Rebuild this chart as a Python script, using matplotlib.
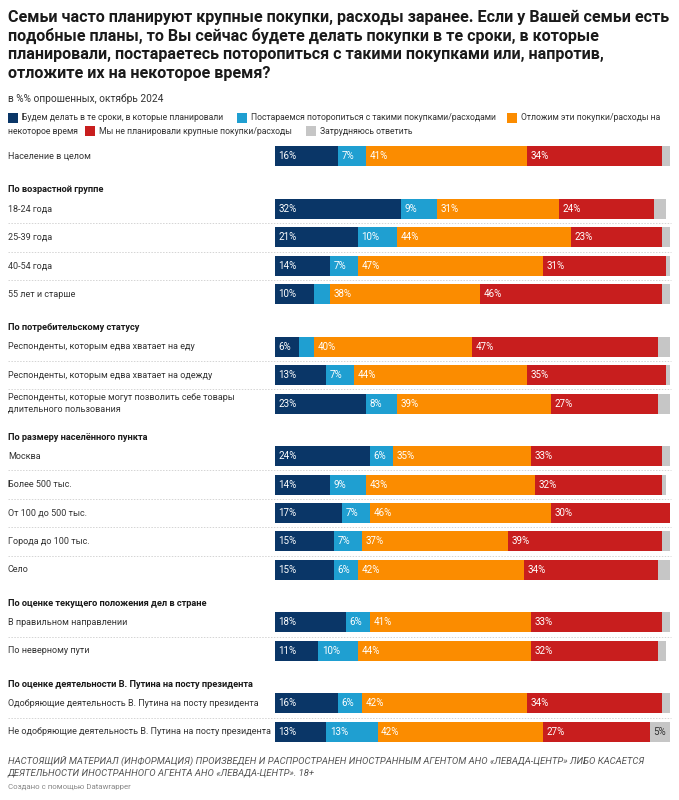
import matplotlib
matplotlib.use("Agg")
import matplotlib.pyplot as plt
import matplotlib.transforms as mtransforms
from matplotlib.patches import Rectangle

plt.rcParams['font.family'] = ['Roboto', 'DejaVu Sans']

# ---------------- data ----------------
series = ["Будем делать в те сроки, в которые планировали",
          "Постараемся поторопиться с такими покупками/расходами",
          "Отложим эти покупки/расходы на\nнекоторое время",
          "Мы не планировали крупные покупки/расходы",
          "Затрудняюсь ответить"]
colors = ["#0a3667", "#1f9fd1", "#fb8c00", "#c81e1e", "#c6c6c6"]

groups = [None,
          "По возрастной группе",
          "По потребительскому статусу",
          "По размеру населённого пункта",
          "По оценке текущего положения дел в стране",
          "По оценке деятельности В. Путина на посту президента"]

categories = [
    ["Население в целом"],
    ["18-24 года", "25-39 года", "40-54 года", "55 лет и старше"],
    ["Респонденты, которым едва хватает на еду",
     "Респонденты, которым едва хватает на одежду",
     "Респонденты, которые могут позволить себе товары\nдлительного пользования"],
    ["Москва", "Более 500 тыс.", "От 100 до 500 тыс.", "Города до 100 тыс.", "Село"],
    ["В правильном направлении", "По неверному пути"],
    ["Одобряющие деятельность В. Путина на посту президента",
     "Не одобряющие деятельность В. Путина на посту президента"],
]

on_time = [16, 32, 21, 14, 10, 6, 13, 23, 24, 14, 17, 15, 15, 18, 11, 16, 13]
hurry = [7, 9, 10, 7, 4, 4, 7, 8, 6, 9, 7, 7, 6, 6, 10, 6, 13]
postpone = [41, 31, 44, 47, 38, 40, 44, 39, 35, 43, 46, 37, 42, 41, 44, 42, 42]
no_plans = [34, 24, 23, 31, 46, 47, 35, 27, 33, 32, 30, 39, 34, 33, 32, 34, 27]
dont_know = [2, 3, 2, 2, 3, 3, 2, 3, 2, 1, 1, 3, 4, 2, 2, 2, 5]

values = [on_time, hurry, postpone, no_plans, dont_know]

title_lines = ["Семьи часто планируют крупные покупки, расходы заранее. Если у Вашей семьи есть",
               "подобные планы, то Вы сейчас будете делать покупки в те сроки, в которые",
               "планировали, постараетесь поторопиться с такими покупками или, напротив,",
               "отложите их на некоторое время?"]
subtitle = "в %% опрошенных, октябрь 2024"
footer_lines = ["НАСТОЯЩИЙ МАТЕРИАЛ (ИНФОРМАЦИЯ) ПРОИЗВЕДЕН И РАСПРОСТРАНЕН ИНОСТРАННЫМ АГЕНТОМ АНО «ЛЕВАДА-ЦЕНТР» ЛИБО КАСАЕТСЯ",
                "ДЕЯТЕЛЬНОСТИ ИНОСТРАННОГО АГЕНТА АНО «ЛЕВАДА-ЦЕНТР». 18+"]
credit = "Создано с помощью Datawrapper"

# ---------------- layout ----------------
W, H = 679, 800
fig = plt.figure(figsize=(W / 100, H / 100), dpi=100)
fig.patch.set_facecolor("white")

x0, x1 = 275, 669.5
ax = fig.add_axes([x0 / W, 0, (x1 - x0) / W, 1])
ax.set_xlim(0, 100)
ax.set_ylim(H, 0)
ax.axis("off")

trans = mtransforms.blended_transform_factory(fig.transFigure, ax.transData)
def fx(px):
    return px / W
def fy(py):
    return 1 - py / H

first_row = 156.3
spacing = 28.4
group_gap = 52.6
header_off = 19
bar_h = 20

row_y = []
header_y = []
y = first_row
for gi, cats in enumerate(categories):
    if gi > 0:
        y = row_y[-1] + group_gap
        header_y.append(y - header_off)
    for ci in range(len(cats)):
        row_y.append(y + ci * spacing)

# separators
idx = 0
for gi, cats in enumerate(categories):
    for ci in range(len(cats) - 1):
        ym = (row_y[idx + ci] + row_y[idx + ci + 1]) / 2
        ax.plot([fx(8), fx(671)], [ym, ym], transform=trans, color="#d4d4d4",
                lw=0.7, ls=(0, (1.5, 1.5)), clip_on=False)
    idx += len(cats)

# bars
for i, yc in enumerate(row_y):
    left = 0
    for s in range(5):
        v = values[s][i]
        ax.barh(yc, v, left=left, height=bar_h, color=colors[s], lw=0)
        if v >= 5:
            tc = "white" if s < 4 else "#333333"
            ax.text(left + 0.9, yc, f"{v}%", color=tc, fontsize=7,
                    va="center", ha="left")
        left += v

# row labels
flat = [c for cats in categories for c in cats]
for lab, yc in zip(flat, row_y):
    ax.text(fx(8), yc, lab, transform=trans, fontsize=6.45, color="#333333",
            va="center", ha="left", linespacing=1.35)
for g, yh in zip(groups[1:], header_y):
    ax.text(fx(8), yh, g, transform=trans, fontsize=6.65, color="#1a1a1a",
            va="center", ha="left", fontweight="bold")

# title
for line, ty in zip(title_lines, [17, 35.7, 54.4, 73.1]):
    fig.text(fx(8), fy(ty), line, fontsize=11.6, fontweight="bold",
             color="#1a1a1a", va="center", ha="left")
fig.text(fx(8), fy(98.5), subtitle, fontsize=7.3,
         color="#333333", va="center", ha="left")

# legend
leg_items = [(8, 118), (237, 118), (507, 118), (85, 131), (306, 131)]
for s, (lx, ly) in enumerate(leg_items):
    fig.patches.append(Rectangle((fx(lx), fy(ly + 5)), 10 / W, 10 / H,
                                 transform=fig.transFigure, color=colors[s], lw=0))
    if s == 2:
        first, second = series[s].split("\n")
        fig.text(fx(lx + 14), fy(ly), first,
                 fontsize=6.2, color="#333333", va="center", ha="left")
        fig.text(fx(8), fy(131), second,
                 fontsize=6.2, color="#333333", va="center", ha="left")
    else:
        fig.text(fx(lx + 14), fy(ly), series[s], fontsize=6.2, color="#333333",
                 va="center", ha="left")

# footer
for line, ty in zip(footer_lines, [761, 773]):
    fig.text(fx(8), fy(ty), line, fontsize=6.8, style="italic",
             color="#555555", va="center", ha="left")
fig.text(fx(8), fy(787), credit, fontsize=5.7,
         color="#888888", va="center", ha="left")

fig.savefig("out.png", dpi=100, facecolor="white")
